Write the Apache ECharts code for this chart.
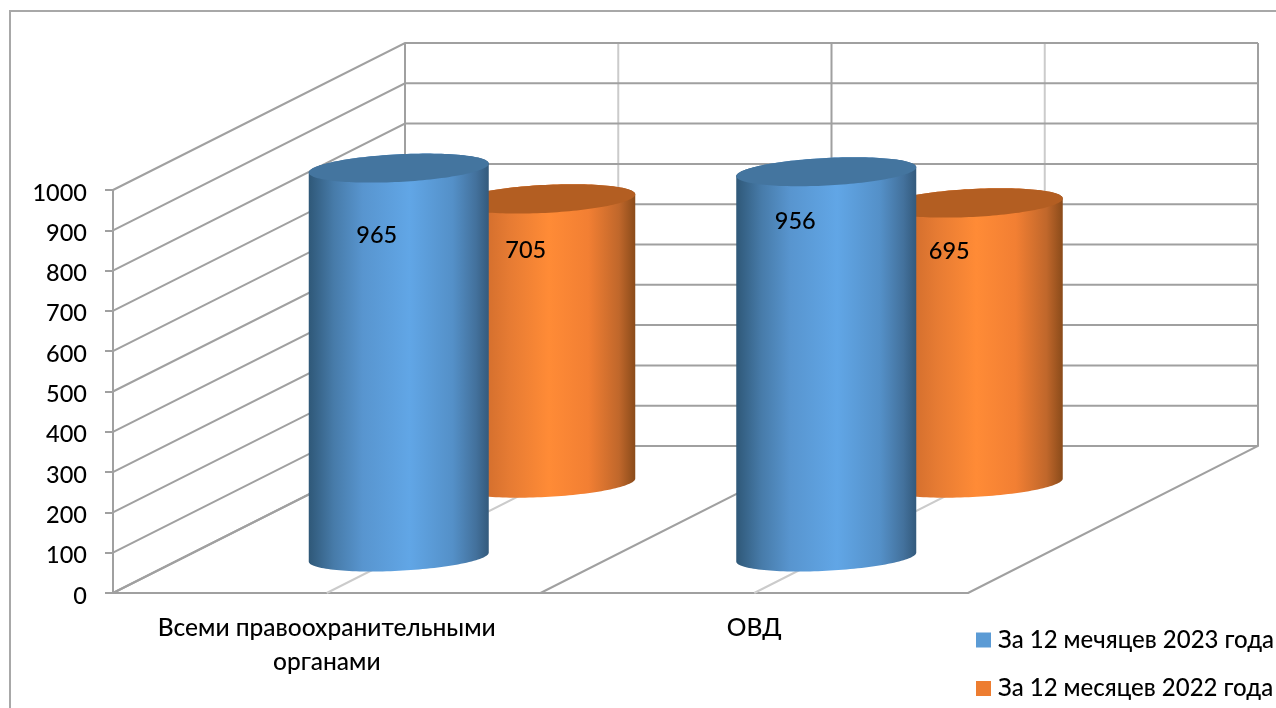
<!DOCTYPE html>
<html><head><meta charset="utf-8">
<style>html,body{margin:0;padding:0;background:#fff;overflow:hidden}#c{width:1276px;height:708px}</style>
<script src="https://cdn.jsdelivr.net/npm/echarts@6/dist/echarts.min.js"></script>
</head><body><div id="c"></div>
<script>
const categories = ['Всеми правоохранительными\nорганами', 'ОВД'];
const series2023 = [965, 956];
const series2022 = [705, 695];
const yTicks = [0,100,200,300,400,500,600,700,800,900,1000];
const wallStops = [0,1,2,3,4];
const name2023 = 'За 12 мечяцев 2023 года';
const name2022 = 'За 12 месяцев 2022 года';

const FONT = 'Lato';
const AXIS = '#a0a0a0', LIGHT = '#cbcbcb';
const DEPTH_X = 292, DEPTH_Y = -147, BACK_W = 853;

function sheared(cx, cy, rx, ry, slope, from, to, n) {
  const pts = [];
  for (let i = 0; i <= n; i++) {
    const t = from + (to - from) * i / n;
    const dx = rx * Math.cos(t);
    pts.push([cx + dx, cy + ry * Math.sin(t) + slope * dx]);
  }
  return pts;
}
function cylinder(look) {
  return function (params, api) {
    const i = api.value(0), v = api.value(1);
    const top = api.coord([i, v]), base = api.coord([i, 0]);
    const cx = top[0] + look.dx, ty = top[1] + look.dy, by = base[1] + look.dy;
    const lower = sheared(cx, by, look.rx, look.ry, look.slope, 0, Math.PI, 70);
    const upper = sheared(cx, ty, look.rx, look.ry, look.slope, Math.PI, 2 * Math.PI, 70);
    const rim = sheared(cx, ty, look.rx, look.ry, look.slope, 0, 2 * Math.PI, 140);
    const off = look.label[i];
    return { type: 'group', children: [
      { type: 'polygon', shape: { points: lower.concat(upper) },
        style: { fill: new echarts.graphic.LinearGradient(0, 0, 1, 0, look.stops) } },
      { type: 'polygon', shape: { points: rim }, style: { fill: look.cap } },
      { type: 'text', x: cx + off[0], y: ty + off[1],
        style: { text: String(v), fill: '#000', font: '500 23.5px ' + FONT, textAlign: 'center', textVerticalAlign: 'middle' } }
    ]};
  };
}
const look2023 = { dx: 72, dy: -36, rx: 90, ry: 13.8, slope: -0.05, cap: '#44759F',
  label: [[-22, 67], [-31, 50]],
  stops: [{offset:0,color:'#2F5878'},{offset:0.14,color:'#477BA9'},{offset:0.3,color:'#5895CF'},{offset:0.56,color:'#61A6E6'},{offset:0.8,color:'#5490C8'},{offset:0.93,color:'#43719C'},{offset:1,color:'#335A7C'}] };
const look2022 = { dx: 218.5, dy: -110, rx: 90, ry: 14, slope: -0.05, cap: '#B35E22',
  label: [[-19.5, 52], [-23.5, 49]],
  stops: [{offset:0,color:'#9A5220'},{offset:0.14,color:'#CF6C2C'},{offset:0.3,color:'#E67B33'},{offset:0.52,color:'#FF8B36'},{offset:0.74,color:'#F27F33'},{offset:0.91,color:'#C0672B'},{offset:1,color:'#8A4B1A'}] };

function yGrid(params, api) {
  const p = api.coord([0, api.value(0)]);
  const x0 = params.coordSys.x, y = p[1];
  return { type: 'polyline', shape: { points: [[x0, y], [x0 + DEPTH_X, y + DEPTH_Y], [x0 + DEPTH_X + BACK_W, y + DEPTH_Y]] },
      style: { stroke: AXIS, lineWidth: 2, fill: 'none' } };
}
function depthGrid(params, api) {
  const s = params.coordSys, k = api.value(0) / 4;
  const fx = s.x + s.width * k, fy = s.y + s.height;
  const bx = s.x + DEPTH_X + BACK_W * k;
  const major = api.value(0) % 2 === 0;
  const col = major ? AXIS : LIGHT;
  return { type: 'polyline', shape: { points: [[fx, fy], [bx, fy + DEPTH_Y], [bx, s.y + DEPTH_Y]] },
    style: { stroke: col, lineWidth: 2, fill: 'none' } };
}

const chart = echarts.init(document.getElementById('c'), null, { renderer: 'canvas' });
chart.setOption({
  animation: false,
  backgroundColor: '#fff',
  textStyle: { fontFamily: FONT },
  graphic: [{ type: 'polyline', shape: { points: [[1276, 11], [10, 11], [10, 708]] },
    style: { stroke: '#a8a8a8', lineWidth: 2, fill: 'none' }, silent: true }],
  grid: { left: 113, top: 190, width: 855, height: 403, containLabel: false },
  legend: { orient: 'vertical', left: 971, top: 623, itemWidth: 15, itemHeight: 15, itemGap: 24.5,
    data: [{ name: name2023, icon: 'rect' }, { name: name2022, icon: 'rect' }],
    selectedMode: false,
    textStyle: { fontFamily: FONT, fontWeight: 500, fontSize: 24, color: '#000', padding: [0,0,0,2] } },
  xAxis: { type: 'category', data: categories,
    axisLine: { show: true, lineStyle: { color: AXIS, width: 2 } },
    axisTick: { show: false }, splitLine: { show: false },
    axisLabel: { color: '#000', fontFamily: FONT, fontWeight: 500, fontSize: 24.5, lineHeight: 34, margin: 18, interval: 0 } },
  yAxis: { type: 'value', min: 0, max: 1000, interval: 100,
    axisLine: { show: true, lineStyle: { color: AXIS, width: 2 } },
    axisTick: { show: true, length: 8, lineStyle: { color: AXIS, width: 2 } },
    splitLine: { show: false },
    axisLabel: { color: '#000', fontFamily: FONT, fontWeight: 500, fontSize: 23.5, margin: 26, verticalAlign: 'top', lineHeight: 6, formatter: v => String(v) } },
  series: [
    { type: 'custom', name: 'walls', z: 1, coordinateSystem: 'cartesian2d', silent: true, renderItem: depthGrid,
      data: wallStops.map(v => [v]), encode: { x: -1, y: -1 }, tooltip: { show: false } },
    { type: 'custom', name: 'grid', z: 1, coordinateSystem: 'cartesian2d', silent: true, renderItem: yGrid,
      data: yTicks.map(v => [v]), encode: { x: -1, y: -1 } },
    { type: 'custom', name: name2023, z: 4, coordinateSystem: 'cartesian2d', renderItem: cylinder(look2023),
      itemStyle: { color: '#5B9BD5' }, encode: { x: 0, y: 1 },
      data: series2023.map((v, i) => [i, v]) },
    { type: 'custom', name: name2022, z: 3, coordinateSystem: 'cartesian2d', renderItem: cylinder(look2022),
      itemStyle: { color: '#ED7D31' }, encode: { x: 0, y: 1 },
      data: series2022.map((v, i) => [i, v]) }
  ]
});
</script></body></html>
